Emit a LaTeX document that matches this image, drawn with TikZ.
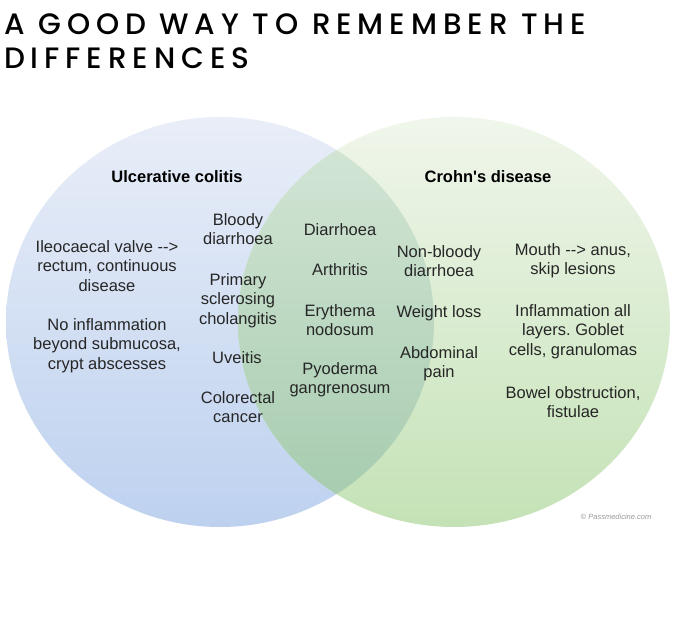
\documentclass[tikz,border=0pt]{standalone}
\usepackage{fontspec}
\setmainfont{Liberation Sans}[Ligatures=TeXOff]
\newfontfamily\titlefont{Poppins Medium}[LetterSpace=20]
\definecolor{bluetop}{HTML}{E9EEF8}
\definecolor{bluebot}{HTML}{BDD1EF}
\definecolor{greentop}{HTML}{F0F6EB}
\definecolor{greenbot}{HTML}{C4E2B6}
\definecolor{ovtop}{HTML}{D6E7D8}
\definecolor{ovbot}{HTML}{A3CAAC}
\definecolor{txtgray}{HTML}{262626}
\definecolor{copygray}{HTML}{9A9A9A}
\tikzset{
  txt/.style={font=\fontsize{16.5}{19.5}\selectfont\frenchspacing, text=txtgray, align=center, inner sep=0pt, anchor=base},
  hd/.style={font=\fontsize{16.5}{19.5}\selectfont\bfseries, text=black, inner sep=0pt, anchor=base},
  ttl/.style={font=\titlefont\fontsize{29.5}{34}\selectfont, text=black, align=left, inner sep=0pt, anchor=base west},
}
\begin{document}
\begin{tikzpicture}[x=1pt,y=-1pt]
\useasboundingbox (0,0) rectangle (680,631);
\fill[white] (0,0) rectangle (680,631);
% circles
\shade[top color=bluetop, bottom color=bluebot] (220,322) ellipse [x radius=214pt, y radius=205pt];
\shade[top color=greentop, bottom color=greenbot] (454,322) ellipse [x radius=216pt, y radius=205pt];
\begin{scope}
  \clip (220,322) ellipse [x radius=214pt, y radius=205pt];
  \shade[top color=ovtop, bottom color=ovbot] (454,322) ellipse [x radius=216pt, y radius=205pt];
\end{scope}
% title (base = last line)
\node[ttl] (title) at (4,69) {A GOOD WAY TO REMEMBER THE\\DIFFERENCES};
% headings
\node[hd] (uc) at (177,183) {Ulcerative colitis};
\node[hd] (cd) at (488,183) {Crohn's disease};
% UC only (anchor base = last line baseline)
\node[txt] (ileo) at (107,291) {Ileocaecal valve -->\\rectum, continuous\\disease};
\node[txt] (noinf) at (107,369) {No inflammation\\beyond submucosa,\\crypt abscesses};
\node[txt] (bloody) at (238,244.5) {Bloody\\diarrhoea};
\node[txt] (psc) at (238,324) {Primary\\sclerosing\\cholangitis};
\node[txt] (uveitis) at (237,363) {Uveitis};
\node[txt] (crc) at (238,422.5) {Colorectal\\cancer};
% both
\node[txt] (diar) at (340,236) {Diarrhoea};
\node[txt] (arth) at (340,276) {Arthritis};
\node[txt] (en) at (340,335.5) {Erythema\\nodosum};
\node[txt] (pg) at (340,393.5) {Pyoderma\\gangrenosum};
% CD only
\node[txt] (nonb) at (439,276.5) {Non-bloody\\diarrhoea};
\node[txt] (wl) at (439,317) {Weight loss};
\node[txt] (abd) at (439,377.5) {Abdominal\\pain};
\node[txt] (mouth) at (573,274.5) {Mouth --> anus,\\skip lesions};
\node[txt] (infl) at (573,355) {Inflammation all\\layers. Goblet\\cells, granulomas};
\node[txt] (bowel) at (573,417.5) {Bowel obstruction,\\fistulae};
% copyright
\node[font=\fontsize{7.5}{9}\selectfont\itshape, text=copygray, inner sep=0pt, anchor=base] (copy) at (616,519) {\textcopyright\ Passmedicine.com};
\end{tikzpicture}
\end{document}
